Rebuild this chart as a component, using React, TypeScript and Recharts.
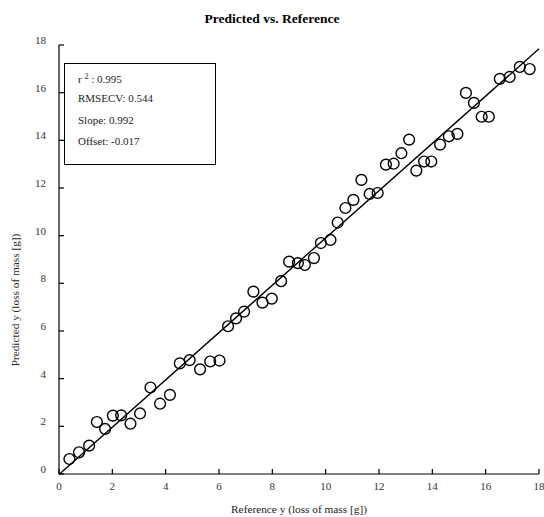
import {
	ReferenceLine,
	Scatter,
	ScatterChart,
	XAxis,
	YAxis,
} from "recharts";

const SERIF = "'Liberation Serif', 'Times New Roman', serif";

// reference y vs predicted y (loss of mass [g])
const referenceY = [
	0.39, 0.75, 1.13, 1.42, 1.73, 2.02, 2.33, 2.68, 3.04, 3.43, 3.79, 4.16, 4.53,
	4.9, 5.29, 5.67, 6.02, 6.34, 6.64, 6.94, 7.29, 7.63, 7.98, 8.33, 8.63, 8.96,
	9.22, 9.56, 9.82, 10.18, 10.45, 10.74, 11.04, 11.34, 11.65, 11.95, 12.26,
	12.55, 12.84, 13.13, 13.4, 13.69, 13.96, 14.29, 14.62, 14.94, 15.26, 15.56,
	15.85, 16.12, 16.53, 16.9, 17.28, 17.65,
];
const predictedY = [
	0.63, 0.91, 1.19, 2.18, 1.89, 2.45, 2.46, 2.11, 2.54, 3.63, 2.95, 3.32, 4.64,
	4.78, 4.39, 4.72, 4.76, 6.2, 6.53, 6.81, 7.65, 7.19, 7.36, 8.09, 8.91, 8.85,
	8.77, 9.06, 9.69, 9.82, 10.55, 11.16, 11.5, 12.34, 11.75, 11.79, 12.98, 13.02,
	13.46, 14.03, 12.73, 13.11, 13.11, 13.82, 14.17, 14.27, 15.99, 15.57, 14.99,
	14.99, 16.58, 16.66, 17.08, 16.99,
];
const axisTicks = [0, 2, 4, 6, 8, 10, 12, 14, 16, 18];

const R2 = "0.995";
const RMSECV = "0.544";
const SLOPE = 0.992;
const OFFSET = -0.017;
const X_MAX = 18;

const points = referenceY.map((x, i) => ({ x, y: predictedY[i] }));

function Ring(props: any) {
	const { cx, cy } = props;
	return (
		<circle cx={cx} cy={cy} r={5.4} fill="none" stroke="#000" strokeWidth={1.4} />
	);
}

const tickStyle = { fill: "#333", fontSize: 11, fontFamily: SERIF };

export default function App() {
	return (
		<div
			style={{
				position: "absolute",
				left: 0,
				top: 0,
				width: 544,
				height: 517,
				fontFamily: SERIF,
				background: "#fff",
			}}
		>
			<div
				style={{
					position: "absolute",
					left: 0,
					width: 544,
					top: 11,
					textAlign: "center",
					fontWeight: "bold",
					fontSize: 13.5,
					lineHeight: "16px",
				}}
			>
				Predicted vs. Reference
			</div>
			{/* rotated y title, sits lower than the plot centre like the original */}
			<div
				style={{
					position: "absolute",
					left: 15 - 100,
					top: 300 - 7,
					width: 200,
					height: 14,
					lineHeight: "14px",
					textAlign: "center",
					fontSize: 11.3,
					color: "#222",
					transform: "rotate(-90deg)",
					whiteSpace: "nowrap",
				}}
			>
				Predicted y (loss of mass [g])
			</div>
			<ScatterChart
				width={544}
				height={517}
				margin={{ top: 45, right: 5, bottom: 0, left: 0 }}
			>
				<XAxis
					type="number"
					dataKey="x"
					domain={[0, X_MAX]}
					ticks={axisTicks}
					interval={0}
					height={43}
					axisLine={{ stroke: "#000", strokeWidth: 1.2 }}
					tickLine={{ stroke: "#000", strokeWidth: 1.2 }}
					tickSize={-5}
					tickMargin={13}
					tick={tickStyle}
					label={{
						value: "Reference y (loss of mass [g])",
						position: "insideBottom",
						offset: 4,
						fill: "#222",
						fontSize: 11.3,
						fontFamily: SERIF,
					}}
				/>
				<YAxis
					type="number"
					dataKey="y"
					domain={[0, X_MAX]}
					ticks={axisTicks}
					interval={0}
					width={59}
					axisLine={{ stroke: "#000", strokeWidth: 1.2 }}
					tickLine={{ stroke: "#000", strokeWidth: 1.2 }}
					tickSize={-5}
					tickMargin={18}
					tick={{ ...tickStyle, dy: -5 }}
				/>
				<ReferenceLine
					segment={[
						{ x: 0, y: OFFSET },
						{ x: X_MAX, y: SLOPE * X_MAX + OFFSET },
					]}
					stroke="#000"
					strokeWidth={1.4}
					ifOverflow="visible"
				/>
				<Scatter data={points} shape={Ring} isAnimationActive={false} />
			</ScatterChart>
			<div
				style={{
					position: "absolute",
					left: 64,
					top: 63,
					width: 150,
					height: 100,
					border: "1px solid #000",
					fontSize: 11,
					color: "#222",
					lineHeight: "13px",
				}}
			>
				<div style={{ position: "absolute", left: 13, top: 6 }}>
					r <sup style={{ fontSize: 8, verticalAlign: "4px" }}>2</sup> : {R2}
				</div>
				<div style={{ position: "absolute", left: 13, top: 28 }}>
					RMSECV: {RMSECV}
				</div>
				<div style={{ position: "absolute", left: 13, top: 50 }}>
					Slope: {SLOPE}
				</div>
				<div style={{ position: "absolute", left: 13, top: 71 }}>
					Offset: {OFFSET}
				</div>
			</div>
		</div>
	);
}
